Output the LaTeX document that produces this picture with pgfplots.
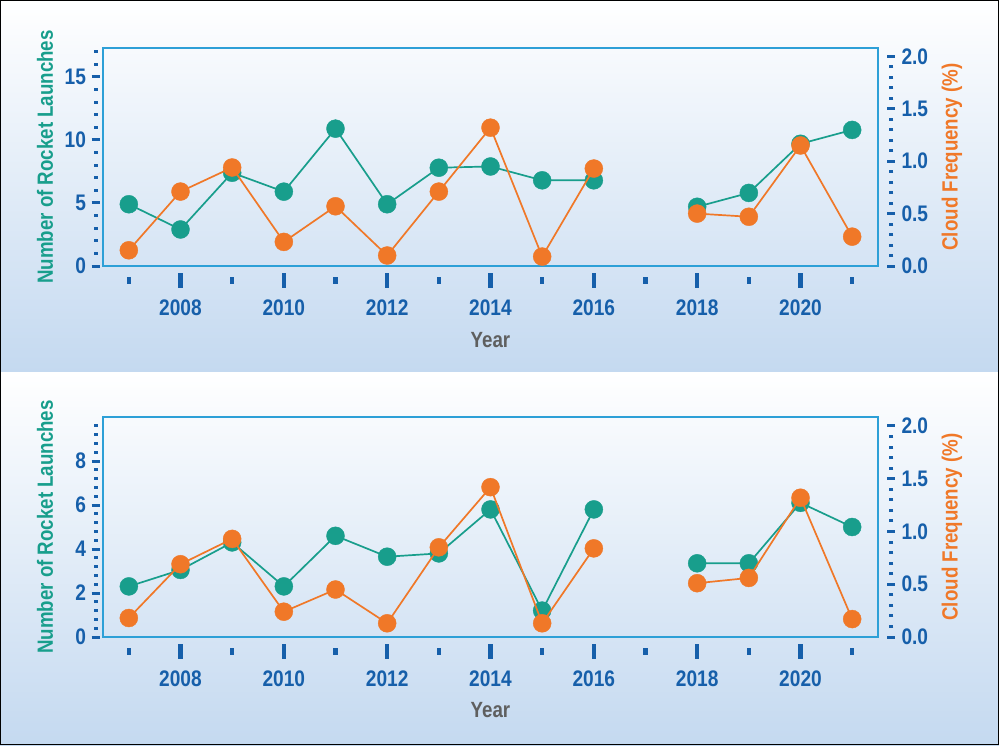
\documentclass[border=0pt]{standalone}
\usepackage{pgfplots}
\pgfplotsset{compat=1.18}
\usepackage{fontspec}
\setmainfont{Liberation Sans}[FakeStretch=0.85]
\definecolor{teal1}{RGB}{24,158,140}
\definecolor{orange1}{RGB}{240,120,40}
\definecolor{axisblue}{RGB}{45,160,215}
\definecolor{tickblue}{RGB}{22,95,170}
\definecolor{labgray}{RGB}{95,95,95}
\definecolor{sky}{RGB}{196,217,240}

\pgfplotstableread{
year launch cloud
2007 4.9 0.15
2008 2.9 0.71
2009 7.4 0.94
2010 5.9 0.23
2011 10.9 0.57
2012 4.9 0.10
2013 7.8 0.71
2014 7.9 1.32
2015 6.8 0.09
2016 6.8 0.93
2017 nan nan
2018 4.7 0.50
2019 5.8 0.47
2020 9.7 1.15
2021 10.8 0.28
}\toptable

\pgfplotstableread{
year launch cloud
2007 2.3 0.18
2008 3.05 0.69
2009 4.3 0.93
2010 2.3 0.24
2011 4.6 0.45
2012 3.65 0.13
2013 3.8 0.85
2014 5.8 1.42
2015 1.2 0.13
2016 5.8 0.84
2017 nan nan
2018 3.35 0.51
2019 3.35 0.56
2020 6.1 1.32
2021 5.0 0.17
}\bottable

\pgfplotsset{
  panel/.style={
    scale only axis, width=775pt,
    xmin=2006.5, xmax=2021.5,
    clip=false, unbounded coords=jump,
    /pgf/number format/assume math mode=true,
    tick label style={font=\fontsize{22.5}{26}\selectfont\bfseries, text=tickblue},
    label style={font=\fontsize{22}{26}\selectfont\bfseries},
    every tick/.style={tickblue, line cap=butt},
    tick align=center,
  },
  leftaxis/.style={
    panel, xtick=\empty, ytick pos=left,
    axis line style={axisblue, line width=2pt},
    major tick length=9pt, minor tick length=3.5pt,
    ytick style={line width=3pt, xshift=-7pt},
    yticklabel style={xshift=-9pt},
    ylabel={Number of Rocket Launches},
    ylabel style={text=teal1, at={(axis description cs:-0.0748,0.5)}, anchor=center},
  },
  rightaxis/.style={
    panel, axis y line*=right, axis x line=none,
    y axis line style={draw=none},
    ytick={0,0.5,1,1.5,2},
    minor ytick={0.1,0.2,0.3,0.4,0.6,0.7,0.8,0.9,1.1,1.2,1.3,1.4,1.6,1.7,1.8,1.9},
    major tick length=8pt, minor tick length=4.5pt,
    ytick style={line width=3pt, xshift=13pt},
    yticklabel style={xshift=16pt, /pgf/number format/.cd, fixed, fixed zerofill, precision=1},
    ylabel={Cloud Frequency (\%)},
    ylabel style={text=orange1, at={(axis description cs:1.0955,0.5)}, anchor=center, rotate=0},
  },
  xaxis/.style={
    panel, axis x line*=bottom, axis y line=none,
    x axis line style={draw=none},
    ymin=0, ymax=1,
    xtick={2008,2010,2012,2014,2016,2018,2020},
    minor xtick={2007,2009,2011,2013,2015,2017,2019,2021},
    major tick length=15pt, minor tick length=7pt,
    xtick style={line width=4.5pt, yshift=-14pt},
    xticklabel style={yshift=-23pt, /pgf/number format/1000 sep={}},
    xlabel={Year},
  },
  tealplot/.style={teal1, line width=1.7pt, mark=*, mark size=9pt, mark options={solid, fill=teal1, draw=teal1, line width=0.4pt}},
  orangeplot/.style={orange1, line width=1.7pt, mark=*, mark size=9pt, mark options={solid, fill=orange1, draw=orange1, line width=0.4pt}},
}

\begin{document}
\begin{tikzpicture}
\useasboundingbox (0,0) rectangle (999pt,-745pt);
\shade[top color=white, middle color=white, bottom color=sky] (0,0) rectangle (999pt,-372pt);
\shade[top color=white, middle color=white, bottom color=sky] (0,-372pt) rectangle (999pt,-745pt);

% ---------- top panel ----------
\begin{axis}[leftaxis, height=218pt, at={(103pt,-266pt)}, anchor=south west,
  ymin=0, ymax=17.3, ytick={0,5,10,15},
  minor ytick={1,2,3,4,6,7,8,9,11,12,13,14,16,17}]
\addplot[tealplot] table[x=year, y=launch] {\toptable};
\end{axis}
\begin{axis}[xaxis, height=218pt, at={(103pt,-266pt)}, anchor=south west,
  xlabel style={text=labgray, at={(axis description cs:0.5,-0.339)}, anchor=center}]
\end{axis}
\begin{axis}[rightaxis, height=218pt, at={(103pt,-266pt)}, anchor=south west,
  ymin=0, ymax=2.08]
\addplot[orangeplot] table[x=year, y=cloud] {\toptable};
\end{axis}

% ---------- bottom panel ----------
\begin{axis}[leftaxis, height=220pt, at={(103pt,-637pt)}, anchor=south west,
  ymin=0, ymax=10.0, ytick={0,2,4,6,8},
  minor ytick={0.4,0.8,1.2,1.6,2.4,2.8,3.2,3.6,4.4,4.8,5.2,5.6,6.4,6.8,7.2,7.6,8.4,8.8,9.2,9.6}]
\addplot[tealplot] table[x=year, y=launch] {\bottable};
\end{axis}
\begin{axis}[xaxis, height=220pt, at={(103pt,-637pt)}, anchor=south west,
  xlabel style={text=labgray, at={(axis description cs:0.5,-0.332)}, anchor=center}]
\end{axis}
\begin{axis}[rightaxis, height=220pt, at={(103pt,-637pt)}, anchor=south west,
  ymin=0, ymax=2.085]
\addplot[orangeplot] table[x=year, y=cloud] {\bottable};
\end{axis}

\draw[black, line width=1.2pt] (0.6pt,-0.6pt) rectangle (998.4pt,-744.4pt);
\end{tikzpicture}
\end{document}
